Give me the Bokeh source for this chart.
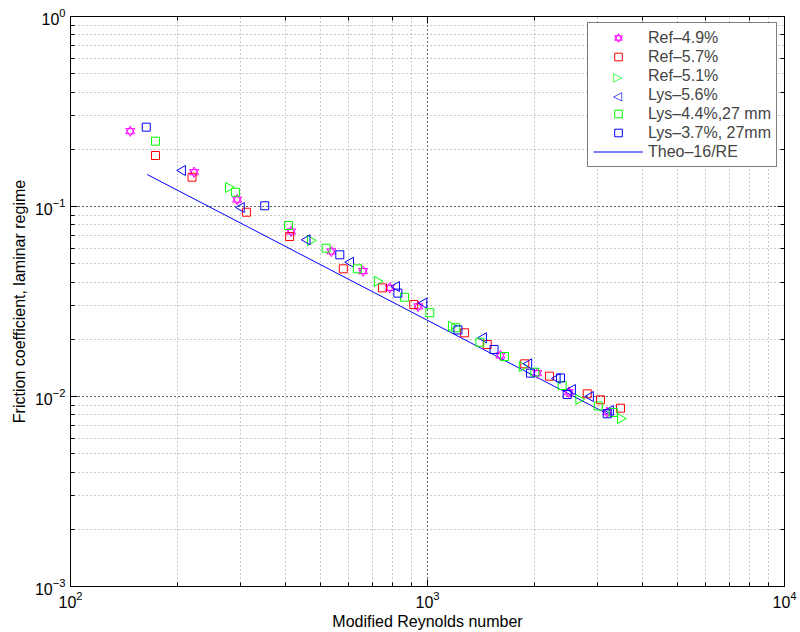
import numpy as np
from bokeh.plotting import figure
from bokeh.models import (LogAxis, LogTicker, Legend, LegendItem, CustomJSTickFormatter,
                          Label, BoxAnnotation)
from bokeh.embed import file_html
from bokeh.resources import INLINE

# ---- data ----
ref49_re = [147, 222, 293, 415, 538, 660, 784, 942, 1601, 2029, 2488, 3187]
ref49_f = [0.249, 0.1515, 0.1088, 0.0739, 0.0580, 0.0457, 0.0373, 0.0298, 0.01644, 0.01327, 0.01053, 0.00827]

ref57_re = [173, 219, 311, 411, 581, 748, 915, 1270, 1470, 1873, 2197, 2802, 3052, 3472]
ref57_f = [0.1855, 0.1426, 0.0933, 0.0695, 0.0470, 0.0373, 0.0305, 0.02164, 0.01878, 0.01486, 0.01279, 0.01033, 0.00961, 0.00868]

ref51_re = [277, 470, 723, 1166, 1842, 2653, 3472]
ref51_f = [0.1259, 0.0662, 0.0404, 0.02344, 0.01438, 0.00965, 0.00766]

lys56_re = [206, 301, 460, 609, 819, 977, 1435, 1922, 2309, 2548, 2861, 3255]
lys56_f = [0.1547, 0.0988, 0.0668, 0.0509, 0.0379, 0.0310, 0.02037, 0.01486, 0.01244, 0.01088, 0.0100, 0.00844]

lys44_re = [173, 290, 408, 520, 636, 862, 1015, 1200, 1402, 1643, 1998, 2384, 3007, 3313]
lys44_f = [0.2207, 0.1189, 0.0794, 0.0603, 0.0470, 0.0333, 0.0276, 0.0230, 0.0193, 0.01624, 0.01342, 0.01143, 0.00891, 0.00824]

lys37_re = [163, 350, 568, 826, 1217, 1536, 1943, 2358, 2462, 3187]
lys37_f = [0.2615, 0.1009, 0.0557, 0.0350, 0.0224, 0.01768, 0.01327, 0.01252, 0.01024, 0.00811]

theo_re = [164, 3255]
theo_f = [0.1474, 0.00794]

labels = ["Ref\u20134.9%", "Ref\u20135.7%", "Ref\u20135.1%", "Lys\u20135.6%",
          "Lys\u20134.4%,27 mm", "Lys\u20133.7%, 27mm", "Theo\u201316/RE"]

FONT = "Liberation Sans"
MAGENTA, RED, GREEN, BLUE = "#ff00ff", "#ff0000", "#00ff00", "#0000ff"

p = figure(width=800, height=632, x_axis_type="log", y_axis_type="log",
           x_range=(100, 10000), y_range=(0.001, 1),
           output_backend="svg", toolbar_location=None,
           min_border_left=70, min_border_right=16, min_border_top=16, min_border_bottom=46,
           x_axis_label="Modified Reynolds number",
           y_axis_label="Friction coefficient, laminar regime")
p.outline_line_color = "black"
p.outline_line_alpha = 1

for ax in list(p.xaxis) + list(p.yaxis):
    ax.major_tick_in = 7
    ax.major_tick_out = 0
    ax.minor_tick_in = 4
    ax.minor_tick_out = 0
    ax.axis_line_color = "black"
    ax.major_label_text_font = FONT
    ax.major_label_text_font_size = "16px"
    ax.major_label_text_color = "black"
    ax.axis_label_text_font = FONT
    ax.axis_label_text_font_size = "16px"
    ax.axis_label_text_font_style = "normal"
    ax.axis_label_text_color = "black"
p.xaxis.major_label_standoff = 4
p.xaxis.axis_label_standoff = 2
p.yaxis.major_label_standoff = 5
p.yaxis.axis_label_standoff = 4

for loc in ["above", "right"]:
    ax = LogAxis(ticker=LogTicker(),
                 formatter=CustomJSTickFormatter(code="return ''"),
                 major_label_standoff=0, major_label_text_font_size="8px",
                 major_tick_in=7, major_tick_out=0,
                 minor_tick_in=4, minor_tick_out=0, axis_line_color="black")
    p.add_layout(ax, loc)

for g in [p.xgrid, p.ygrid]:
    g.grid_line_color = "black"
    g.grid_line_dash = "1 3"
    g.grid_line_alpha = 0.8
    g.minor_grid_line_color = "#777777"
    g.minor_grid_line_dash = "1 3"
    g.minor_grid_line_alpha = 0.8

# legend geometry (screen px, relative to the plot frame)
LEG_X, LEG_Y, PAD, ROW, GW, LEG_W = 517, 419, 5, 19, 50, 190
leg_h = 2 * PAD + 7 * ROW

# white backing for the legend, under the glyphs but over the grid
p.add_layout(BoxAnnotation(left=LEG_X, right=LEG_X + LEG_W, bottom=LEG_Y, top=LEG_Y + leg_h,
                           left_units="screen", right_units="screen",
                           top_units="screen", bottom_units="screen",
                           fill_color="white", fill_alpha=1, line_alpha=0, level="underlay"))

r_theo = p.line(theo_re, theo_f, line_color=BLUE, line_width=1)


def pts(xs, ys, marker, size, color, angle=0.0):
    return p.scatter(xs, ys, marker=marker, size=size, angle=angle,
                     fill_color=color, fill_alpha=0.0,
                     line_color=color, line_alpha=1.0, line_width=1)


r_h1 = pts(ref49_re, ref49_f, "triangle", 9, MAGENTA)
r_h2 = pts(ref49_re, ref49_f, "inverted_triangle", 9, MAGENTA)
r_r57 = pts(ref57_re, ref57_f, "square", 8, RED)
r_r51 = pts(ref51_re, ref51_f, "triangle", 10, GREEN, angle=-np.pi / 2)
r_l56 = pts(lys56_re, lys56_f, "triangle", 10, BLUE, angle=np.pi / 2)
r_l44 = pts(lys44_re, lys44_f, "square", 8, GREEN)
r_l37 = pts(lys37_re, lys37_f, "square", 8, BLUE)

# invisible stand-ins: legend glyphs of rotated markers are drawn as text symbols
d_r51 = p.scatter([], [], marker="square", size=1, line_alpha=0, fill_alpha=0)
d_l56 = p.scatter([], [], marker="square", size=1, line_alpha=0, fill_alpha=0)

items = [
    LegendItem(label=labels[0], renderers=[r_h1, r_h2]),
    LegendItem(label=labels[1], renderers=[r_r57]),
    LegendItem(label=labels[2], renderers=[d_r51]),
    LegendItem(label=labels[3], renderers=[d_l56]),
    LegendItem(label=labels[4], renderers=[r_l44]),
    LegendItem(label=labels[5], renderers=[r_l37]),
    LegendItem(label=labels[6], renderers=[r_theo]),
]
legend = Legend(items=items, location=(LEG_X, LEG_Y),
                label_text_font=FONT, label_text_font_size="16px",
                glyph_width=GW, glyph_height=ROW, label_height=ROW,
                label_standoff=5, spacing=0, padding=PAD, margin=0,
                border_line_color="black", border_line_width=1,
                background_fill_alpha=0)
p.add_layout(legend, "center")

leg_top = LEG_Y + leg_h
for i, sym, col in [(2, "\u25B7", GREEN), (3, "\u25C1", BLUE)]:
    p.add_layout(Label(x=LEG_X + PAD + GW / 2, y=leg_top - PAD - ROW * i - ROW / 2,
                       x_units="screen", y_units="screen", text=sym,
                       text_font="DejaVu Sans", text_font_size="12px", text_color=col,
                       text_align="center", text_baseline="middle"))

open("out.html", "w").write(file_html(p, INLINE))
